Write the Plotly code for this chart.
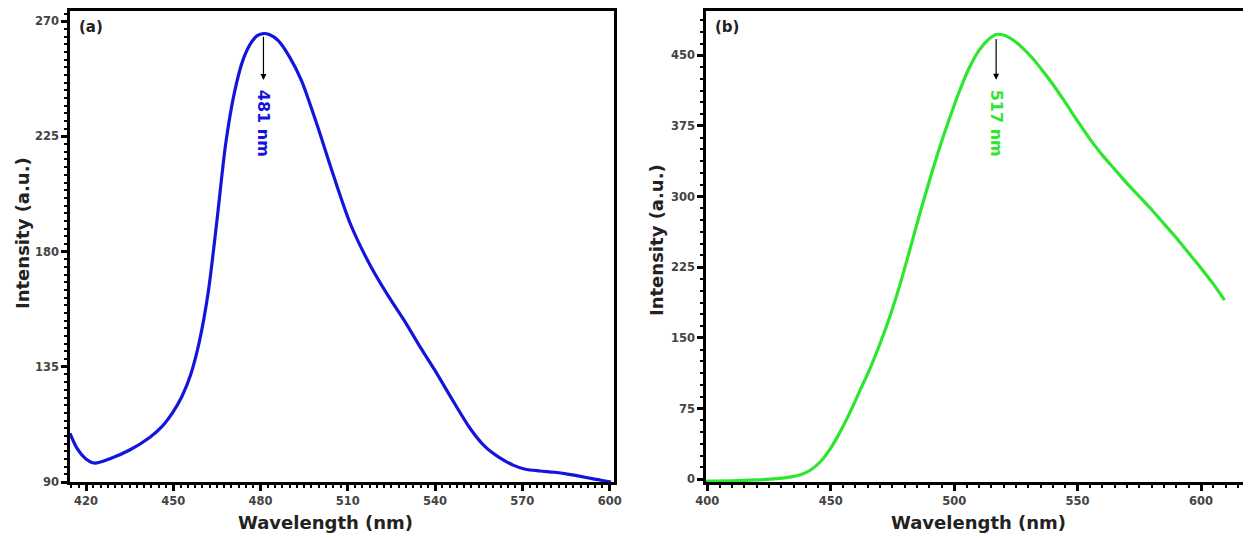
import plotly.graph_objects as go

# Panel (a)
wl_a = [414.5, 417, 420, 423, 428, 435, 442, 446, 450, 453, 456, 459, 462, 465, 468, 471, 474,
        477, 479, 481, 483, 486, 490, 494, 499, 505, 511, 518, 524, 530, 535, 540, 546, 552,
        557, 562, 567, 571, 576, 581, 586, 590, 594, 597, 600.5]
int_a = [109, 103, 99, 97.4, 99, 102.5, 107.5, 111.5, 117.5, 123.5, 132, 145, 164, 192, 222, 242, 255,
         262, 264.5, 265.2, 264.8, 262.5, 256, 247, 231, 210, 190.5, 174, 162.5, 152, 142.5, 133.5, 122, 111,
         104, 99.6, 96.5, 95, 94.3, 93.8, 93, 92.2, 91.3, 90.7, 90]

# Panel (b)
wl_b = [399.5, 410, 420, 428, 434, 438, 442, 446, 450, 454, 458, 462, 466, 470, 474, 478, 482,
        486, 490, 494, 498, 502, 506, 510, 514, 517, 520, 524, 528, 532, 536, 540, 545, 550, 555,
        560, 565, 570, 575, 580, 585, 590, 595, 600, 605, 609.5]
int_b = [-2, -1.8, -0.8, 0.5, 2.5, 5, 10, 19, 33, 51, 72, 95, 118, 144, 173, 206, 243,
         281, 317, 351, 382, 411, 436, 455, 467, 472, 471.5, 466, 457, 446, 433, 419, 400, 380, 361,
         344, 329, 314, 300, 286, 271, 256, 240, 224, 207, 190]

peak_a, peak_a_val, peak_a_label = 481, 265, "481 nm"
peak_b, peak_b_val, peak_b_label = 517, 472, "517 nm"

blue = "#1414dc"
green = "#2ee62e"

# page body has an 8px margin: work in reference pixels and shift
W, H = 1243, 530
OFF = 8


def px(x):
    return (x - OFF) / W


def py(y):
    return 1 - (y - OFF) / H


fig = go.Figure()
fig.add_trace(go.Scatter(x=wl_a, y=int_a, mode="lines",
                         line=dict(color=blue, width=3.2, shape="spline", smoothing=0.8),
                         xaxis="x", yaxis="y", showlegend=False))
fig.add_trace(go.Scatter(x=wl_b, y=int_b, mode="lines",
                         line=dict(color=green, width=3.2, shape="spline", smoothing=0.8),
                         xaxis="x2", yaxis="y2", showlegend=False))

FONT = "DejaVu Sans, Verdana, sans-serif"
tickfont = dict(family=FONT, size=11.5, color="#444444", weight="bold")
common = dict(showgrid=False, zeroline=False, showline=True, linecolor="black", linewidth=2.5,
              mirror=True, ticks="outside", ticklen=6, tickwidth=2.5, tickcolor="black",
              tickfont=tickfont, automargin=False, tickmode="linear")


def minor(d):
    return dict(dtick=d, ticks="outside", ticklen=3, tickwidth=2, tickcolor="black", showgrid=False)


xa_dom = [px(70), px(614)]
xb_dom = [px(706), px(1248)]
y_dom = [py(482), py(11)]

fig.update_layout(
    width=W, height=H, margin=dict(l=0, r=0, t=0, b=0),
    plot_bgcolor="white", paper_bgcolor="white",
    xaxis=dict(domain=xa_dom, range=[414.5, 601.5], tick0=420, dtick=30, anchor="y",
               minor=minor(2.5), **common),
    yaxis=dict(domain=y_dom, range=[90, 274], tick0=90, dtick=45, anchor="x",
               minor=minor(3), **common),
    xaxis2=dict(domain=xb_dom, range=[399.5, 619], tick0=400, dtick=50, anchor="y2",
                minor=minor(5), **common),
    yaxis2=dict(domain=y_dom, range=[-3, 497], tick0=0, dtick=75, anchor="x2",
                minor=minor(12.5), **common),
)

titlefont = dict(family=FONT, size=18, color="#222222")
lblfont = dict(family=FONT, size=15, color="#222222")
base = dict(xref="paper", yref="paper", showarrow=False, xanchor="center", yanchor="middle")
ann = [
    dict(text="<b>Wavelength (nm)</b>", x=px(325), y=py(522), font=titlefont, **base),
    dict(text="<b>Wavelength (nm)</b>", x=px(978), y=py(522), font=titlefont, **base),
    dict(text="<b>Intensity (a.u.)</b>", x=px(22), y=py(233), textangle=-90, font=titlefont, **base),
    dict(text="<b>Intensity (a.u.)</b>", x=px(656), y=py(240), textangle=-90, font=titlefont, **base),
    dict(text="<b>(a)</b>", x=px(91), y=py(27), font=lblfont, **base),
    dict(text="<b>(b)</b>", x=px(727), y=py(27), font=lblfont, **base),
    # arrows
    dict(x=peak_a, y=peak_a_val - 18, ax=peak_a, ay=peak_a_val - 0.5, xref="x", yref="y", axref="x", ayref="y",
         showarrow=True, arrowhead=2, arrowsize=1, arrowwidth=1.2, arrowcolor="black", text=""),
    dict(x=peak_b, y=peak_b_val - 48, ax=peak_b, ay=peak_b_val - 3, xref="x2", yref="y2", axref="x2", ayref="y2",
         showarrow=True, arrowhead=2, arrowsize=1, arrowwidth=1.2, arrowcolor="black", text=""),
    dict(text="<b>" + peak_a_label + "</b>", x=peak_a, y=peak_a_val - 21, xref="x", yref="y", yanchor="top",
         showarrow=False, textangle=90, font=dict(family=FONT, size=16, color=blue)),
    dict(text="<b>" + peak_b_label + "</b>", x=peak_b, y=peak_b_val - 56, xref="x2", yref="y2", yanchor="top",
         showarrow=False, textangle=90, font=dict(family=FONT, size=16, color=green)),
]
fig.update_layout(annotations=ann)

fig.write_html("out.html")
